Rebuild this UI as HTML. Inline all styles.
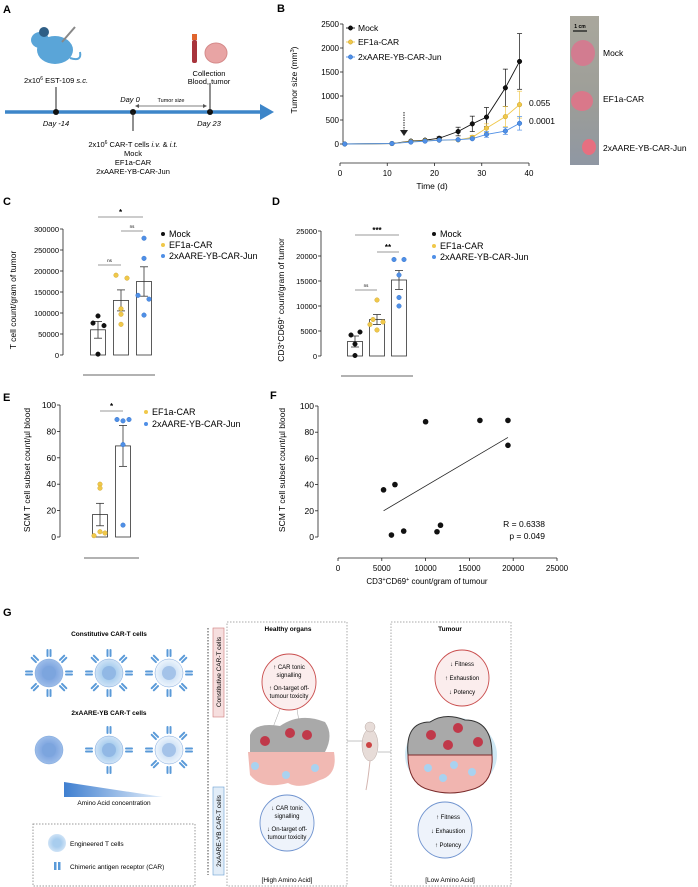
<!DOCTYPE html>
<html><head><meta charset="utf-8"><style>
html,body{margin:0;padding:0;background:#fff}
svg{display:block;font-family:"Liberation Sans",Arial,sans-serif}
</style></head><body>
<svg id="fig" width="698" height="887" viewBox="0 0 698 887" xmlns="http://www.w3.org/2000/svg">
<defs>
<linearGradient id="tri" x1="0" x2="1" y1="0" y2="0"><stop offset="0" stop-color="#3f7fd0"/><stop offset="1" stop-color="#e6f0fb"/></linearGradient>
<radialGradient id="cellA"><stop offset="0.45" stop-color="#7fa6e0"/><stop offset="1" stop-color="#9dbde9"/></radialGradient>
<radialGradient id="cellB"><stop offset="0.45" stop-color="#a8cdee"/><stop offset="1" stop-color="#cfe3f6"/></radialGradient>
<radialGradient id="cellC"><stop offset="0.45" stop-color="#cfe2f6"/><stop offset="1" stop-color="#eef5fc"/></radialGradient>
<linearGradient id="photo" x1="0" x2="0" y1="0" y2="1"><stop offset="0" stop-color="#a9a79c"/><stop offset="0.6" stop-color="#9c9d98"/><stop offset="1" stop-color="#8f97a3"/></linearGradient>
</defs>
<!-- Panel A -->
<g>
<text x="3" y="13" font-size="11" font-weight="bold">A</text>
<g fill="#5aa5d8">
<ellipse cx="55" cy="50" rx="18" ry="14"/><ellipse cx="40" cy="40" rx="9" ry="8"/><circle cx="44" cy="32" r="5" fill="#2f5f86"/>
<path d="M70 58 Q82 62 80 52" stroke="#5aa5d8" stroke-width="2" fill="none"/>
<line x1="62" y1="42" x2="75" y2="27" stroke="#888" stroke-width="2"/>
</g>
<text x="56" y="83" font-size="7.5" text-anchor="middle">2x10<tspan font-size="5" dy="-3">6</tspan><tspan dy="3"> EST-109 </tspan><tspan font-style="italic">s.c.</tspan></text>
<line x1="56" y1="87" x2="56" y2="112" stroke="#222" stroke-width="1"/>
<line x1="5" y1="112" x2="262" y2="112" stroke="#3d86c9" stroke-width="3.5"/>
<polygon points="260,104 274,112 260,120" fill="#3d86c9"/>
<circle cx="56" cy="112" r="3" fill="#111"/><circle cx="133" cy="112" r="3" fill="#111"/><circle cx="210" cy="112" r="3" fill="#111"/>
<line x1="133" y1="112" x2="133" y2="131" stroke="#222"/>
<line x1="210" y1="83" x2="210" y2="112" stroke="#222"/>
<text x="56" y="126" font-size="7.5" font-style="italic" text-anchor="middle">Day -14</text>
<text x="130" y="102" font-size="7.5" font-style="italic" text-anchor="middle">Day 0</text>
<text x="209" y="126" font-size="7.5" font-style="italic" text-anchor="middle">Day 23</text>
<line x1="137" y1="106" x2="205" y2="106" stroke="#555" stroke-width="0.8"/>
<polygon points="135,106 139,104 139,108" fill="#555"/><polygon points="207,106 203,104 203,108" fill="#555"/>
<text x="171" y="102" font-size="5.5" text-anchor="middle">Tumor size</text>
<rect x="192" y="34" width="5" height="6" fill="#e0642d"/><rect x="192" y="40" width="5" height="23" rx="2" fill="#a8343c"/>
<ellipse cx="216" cy="53" rx="11" ry="10" fill="#e8a4a4" stroke="#d58a8a"/>
<text x="209" y="76" font-size="7.5" text-anchor="middle">Collection</text>
<text x="209" y="84" font-size="7.5" text-anchor="middle">Blood, tumor</text>
<text x="133" y="147" font-size="7.5" text-anchor="middle">2x10<tspan font-size="5" dy="-3">6</tspan><tspan dy="3"> CAR-T cells </tspan><tspan font-style="italic">i.v.</tspan> &amp; <tspan font-style="italic">i.t.</tspan></text>
<text x="133" y="156" font-size="7.5" text-anchor="middle">Mock</text>
<text x="133" y="165" font-size="7.5" text-anchor="middle">EF1a-CAR</text>
<text x="133" y="174" font-size="7.5" text-anchor="middle">2xAARE-YB-CAR-Jun</text>
</g>
<text x="277" y="12" font-size="11" font-weight="bold">B</text>
<text x="3" y="205" font-size="11" font-weight="bold">C</text>
<text x="272" y="205" font-size="11" font-weight="bold">D</text>
<text x="3" y="401" font-size="11" font-weight="bold">E</text>
<text x="270" y="399" font-size="11" font-weight="bold">F</text>
<text x="3" y="616" font-size="11" font-weight="bold">G</text>
<!-- photo -->
<g>
<rect x="570" y="16" width="29" height="149" fill="url(#photo)"/>
<line x1="573" y1="31" x2="587" y2="31" stroke="#111" stroke-width="1.2"/>
<text x="580" y="28" font-size="5" font-weight="bold" text-anchor="middle">1 cm</text>
<ellipse cx="583" cy="53" rx="12" ry="13" fill="#d27c90"/>
<ellipse cx="582" cy="101" rx="11" ry="10" fill="#d9788a"/>
<ellipse cx="589" cy="147" rx="7" ry="8" fill="#e66f80"/>
<text x="603" y="56" font-size="8.5">Mock</text>
<text x="603" y="102" font-size="8.5">EF1a-CAR</text>
<text x="603" y="151" font-size="8.5">2xAARE-YB-CAR-Jun</text>
</g>
<!-- Panel G -->
<g id="gpanel" font-size="6.5">
<text x="109" y="636" text-anchor="middle" font-weight="bold">Constitutive CAR-T cells</text>
<text x="109" y="715" text-anchor="middle" font-weight="bold">2xAARE-YB CAR-T cells</text>
<polygon points="64,782 64,797 163,797" fill="url(#tri)"/>
<text x="114" y="805" text-anchor="middle">Amino Acid concentration</text>
<rect x="33" y="824" width="162" height="62" fill="none" stroke="#999" stroke-dasharray="1.5,1.5"/>
<circle cx="57" cy="843" r="9" fill="url(#cellB)"/>
<text x="70" y="846">Engineered T cells</text>
<rect x="54" y="862" width="2.5" height="8" fill="#5a9ad8"/><rect x="58" y="862" width="2.5" height="8" fill="#5a9ad8"/>
<text x="70" y="869">Chimeric antigen receptor (CAR)</text>
<line x1="208" y1="628" x2="208" y2="875" stroke="#444" stroke-dasharray="1.5,1.5"/>
<rect x="213" y="628" width="11" height="89" fill="#f6dede" stroke="#d07a7a" stroke-width="0.6"/>
<text transform="translate(221,672) rotate(-90)" text-anchor="middle" font-size="6.5">Constitutive CAR-T cells</text>
<rect x="213" y="787" width="11" height="88" fill="#e2edf8" stroke="#6a9fd3" stroke-width="0.6"/>
<text transform="translate(221,831) rotate(-90)" text-anchor="middle" font-size="6.5">2xAARE-YB CAR-T cells</text>
<rect x="227" y="622" width="120" height="264" fill="none" stroke="#aaa" stroke-dasharray="1.5,1.5"/>
<text x="288" y="631" text-anchor="middle" font-weight="bold">Healthy organs</text>
<line x1="280" y1="709" x2="272" y2="730" stroke="#888" stroke-width="0.4"/><line x1="297" y1="709" x2="300" y2="728" stroke="#888" stroke-width="0.4"/>
<ellipse cx="289" cy="682" rx="27" ry="28" fill="#fbeded" stroke="#c94d4d" stroke-width="0.9"/>
<text x="289" y="669" text-anchor="middle" font-size="6">↑ CAR tonic</text>
<text x="289" y="677" text-anchor="middle" font-size="6">signalling</text>
<text x="289" y="690" text-anchor="middle" font-size="6">↑ On-target off-</text>
<text x="289" y="698" text-anchor="middle" font-size="6">tumour toxicity</text>
<path d="M250 735 Q255 722 280 726 Q300 712 325 722 Q334 735 325 752 L250 752 Z" fill="#a9a9a9"/>
<path d="M248 752 L334 752 Q338 775 320 780 Q300 790 288 783 Q262 790 250 775 Z" fill="#f1b9b3"/>
<circle cx="265" cy="741" r="5" fill="#c0394a"/><circle cx="290" cy="733" r="5" fill="#c0394a"/><circle cx="307" cy="735" r="5" fill="#c0394a"/>
<circle cx="255" cy="766" r="4" fill="#a9d2f0"/><circle cx="286" cy="775" r="4" fill="#a9d2f0"/><circle cx="315" cy="768" r="4" fill="#a9d2f0"/>
<ellipse cx="287" cy="823" rx="27" ry="28" fill="#eef3fb" stroke="#6f93cf" stroke-width="0.9"/>
<text x="287" y="810" text-anchor="middle" font-size="6">↓ CAR tonic</text>
<text x="287" y="818" text-anchor="middle" font-size="6">signalling</text>
<text x="287" y="831" text-anchor="middle" font-size="6">↓ On-target off-</text>
<text x="287" y="839" text-anchor="middle" font-size="6">tumour toxicity</text>
<text x="287" y="882" text-anchor="middle">[High Amino Acid]</text>
<line x1="347" y1="741" x2="362" y2="741" stroke="#888" stroke-width="0.5"/><line x1="378" y1="752" x2="391" y2="752" stroke="#888" stroke-width="0.5"/>
<g><ellipse cx="370" cy="745" rx="8" ry="16" fill="#e7dcd8" stroke="#b9a9a4" stroke-width="0.5"/><circle cx="370" cy="727" r="5" fill="#e7dcd8" stroke="#b9a9a4" stroke-width="0.5"/><path d="M370 761 Q368 780 366 790" stroke="#d3b5b0" fill="none"/><circle cx="369" cy="745" r="3" fill="#c44"/></g>
<rect x="391" y="622" width="120" height="264" fill="none" stroke="#aaa" stroke-dasharray="1.5,1.5"/>
<text x="450" y="631" text-anchor="middle" font-weight="bold">Tumour</text>
<ellipse cx="451" cy="755" rx="46" ry="38" fill="#cfe8f4"/>
<path d="M408 755 Q405 722 430 722 Q445 712 465 720 Q492 720 492 755 Z" fill="#a9a9a9" stroke="#333" stroke-width="1"/>
<path d="M408 755 L492 755 Q494 785 470 790 Q450 796 430 790 Q408 785 408 755 Z" fill="#f1b5b0" stroke="#7a2b2b" stroke-width="1"/>
<circle cx="431" cy="735" r="5" fill="#c0394a"/><circle cx="458" cy="728" r="5" fill="#c0394a"/><circle cx="448" cy="745" r="5" fill="#c0394a"/><circle cx="478" cy="742" r="5" fill="#c0394a"/>
<circle cx="428" cy="768" r="4" fill="#a9d2f0"/><circle cx="454" cy="765" r="4" fill="#a9d2f0"/><circle cx="472" cy="772" r="4" fill="#a9d2f0"/><circle cx="443" cy="778" r="4" fill="#a9d2f0"/>
<ellipse cx="462" cy="678" rx="27" ry="28" fill="#fbeded" stroke="#c94d4d" stroke-width="0.9"/>
<text x="462" y="666" text-anchor="middle" font-size="6">↓ Fitness</text>
<text x="462" y="680" text-anchor="middle" font-size="6">↑ Exhaustion</text>
<text x="462" y="694" text-anchor="middle" font-size="6">↓ Potency</text>
<ellipse cx="445" cy="830" rx="27" ry="28" fill="#eef3fb" stroke="#6f93cf" stroke-width="0.9"/>
<text x="448" y="819" text-anchor="middle" font-size="6">↑ Fitness</text>
<text x="448" y="833" text-anchor="middle" font-size="6">↓ Exhaustion</text>
<text x="448" y="847" text-anchor="middle" font-size="6">↑ Potency</text>
<text x="450" y="882" text-anchor="middle">[Low Amino Acid]</text>
</g>
</svg>
<script>
// ---------- Panel B data ----------
const bDays = [1, 11, 15, 18, 21, 25, 28, 31, 35, 38];
const bMock = [0, 10, 60, 80, 120, 260, 420, 560, 1170, 1720];
const bMockErr = [0, 10, 20, 20, 30, 90, 160, 200, 390, 580];
const bEf1a = [0, 10, 50, 70, 80, 85, 140, 330, 570, 820];
const bEf1aErr = [0, 5, 15, 15, 15, 20, 40, 90, 210, 280];
const bJun = [0, 10, 40, 60, 80, 90, 110, 200, 270, 430];
const bJunErr = [0, 5, 10, 10, 10, 15, 20, 60, 70, 140];
const bYTicks = [0, 500, 1000, 1500, 2000, 2500];
const bXTicks = [0, 10, 20, 30, 40];
const bPvals = ["0.055", "0.0001"];
// ---------- Panel C data ----------
const cGroups = ["Mock", "EF1a-CAR", "2xAARE-YB-CAR-Jun"];
const cMeans = [60000, 130000, 175000];
const cSem = [20000, 25000, 35000];
const cPoints = [[76000, 93000, 70000, 2000], [190000, 183000, 110000, 97000, 73000], [278000, 230000, 142000, 133000, 95000]];
const cYTicks = [0, 50000, 100000, 150000, 200000, 250000, 300000];
// ---------- Panel D data ----------
const dMeans = [2900, 7300, 15200];
const dSem = [1100, 1000, 1900];
const dPoints = [[4200, 4800, 2400, 100], [11200, 7300, 6300, 6800, 5200], [19300, 19300, 16200, 11700, 10000]];
const dYTicks = [0, 5000, 10000, 15000, 20000, 25000];
// ---------- Panel E data ----------
const eGroups = ["EF1a-CAR", "2xAARE-YB-CAR-Jun"];
const eMeans = [17, 69];
const eSem = [8.5, 15.5];
const ePoints = [[40, 37, 1, 4, 3], [89, 88, 89, 70, 9]];
const eYTicks = [0, 20, 40, 60, 80, 100];
// ---------- Panel F data ----------
const fX = [5200, 6500, 10000, 16200, 19400, 19400, 6100, 7500, 11300, 11700];
const fY = [36, 40, 88, 89, 89, 70, 1.5, 4.5, 4, 9];
const fFitX = [5200, 19400];
const fFitY = [20, 76];
const fXTicks = [0, 5000, 10000, 15000, 20000, 25000];
const fYTicks = [0, 20, 40, 60, 80, 100];
const fStats = ["R = 0.6338", "p = 0.049"];

// layout-only jitter offsets (pixels) for dot placement
const cJitter = [[-5, 0, 6, 0], [-5, 6, 0, 0, 0], [0, 0, -6, 5, 0]];
const dJitter = [[-4, 5, 0, 0], [0, -4, -7, 6, 0], [-5, 5, 0, 0, 0]];
const eJitter = [[0, 0, -6, 0, 5], [-6, 0, 6, 0, 0]];

const NS = "http://www.w3.org/2000/svg";
const svg = document.getElementById("fig");
const COLS = ["#111111", "#f0c84a", "#4f8fe6"];
const STROKES = ["#000", "#c9a02a", "#2f6fc6"];
function mk(tag, attrs, parent) {
  const e = document.createElementNS(NS, tag);
  for (const k in attrs) e.setAttribute(k, attrs[k]);
  (parent || svg).appendChild(e);
  return e;
}
function tx(x, y, s, attrs, parent) {
  const e = mk("text", Object.assign({x: x, y: y}, attrs || {}), parent);
  e.textContent = s;
  return e;
}
function yAxis(g, x, y0, y1, ticks, sc, fs) {
  const ax = mk("line", {x1: x, x2: x, y1: y0, y2: y1, stroke: "#222", "stroke-width": 0.8}, g);
  
  
  ticks.forEach(t => {
    mk("line", {x1: x - 3, x2: x, y1: sc(t), y2: sc(t), stroke: "#222", "stroke-width": 0.8}, g);
    const l = tx(x - 4, sc(t) + 3, String(t), {"font-size": fs || 8, "text-anchor": "end"}, g);
    
    
  });
}
function ylabel(g, x, y, s) {
  const t = mk("text", {transform: "translate(" + x + "," + y + ") rotate(-90)", "font-size": 8.5, "text-anchor": "middle"}, g);
  t.innerHTML = s;
  
  
}
function bracket(g, x1, x2, y, label, big) {
  mk("line", {x1: x1, x2: x2, y1: y, y2: y, stroke: "#777", "stroke-width": 0.7}, g);
  const t = tx((x1 + x2) / 2, y - (big ? 2 : 3), label, {"font-size": big ? 8 : 4.5, "text-anchor": "middle", "font-weight": big ? "bold" : "normal"}, g);
  
  
}
function legend(g, x, ys, names, cols) {
  names.forEach((n, i) => {
    const it = mk("g", {}, g);
    
    
    mk("circle", {cx: x, cy: ys[i] - 3, r: 2, fill: cols[i]}, it);
    tx(x + 6, ys[i], n, {"font-size": 9}, it);
  });
}
function barPanel(g, centers, means, sem, pts, jit, sc, cols, strokes, w) {
  centers.forEach((c, i) => {
    const b = mk("rect", {x: c - w / 2, y: sc(means[i]), width: w, height: sc(0) - sc(means[i]), fill: "#fff", stroke: "#333", "stroke-width": 0.8}, g);
    
    
    mk("line", {x1: c, x2: c, y1: sc(means[i] - sem[i]), y2: sc(means[i] + sem[i]), stroke: "#333", "stroke-width": 0.8}, g);
    mk("line", {x1: c - 4, x2: c + 4, y1: sc(means[i] - sem[i]), y2: sc(means[i] - sem[i]), stroke: "#333", "stroke-width": 0.8}, g);
    mk("line", {x1: c - 4, x2: c + 4, y1: sc(means[i] + sem[i]), y2: sc(means[i] + sem[i]), stroke: "#333", "stroke-width": 0.8}, g);
    pts[i].forEach((v, j) => {
      const off = (jit[i] && jit[i][j] !== undefined) ? jit[i][j] : 0;
      const p = mk("circle", {cx: c + off, cy: sc(v), r: 2.3, fill: cols[i], stroke: strokes[i], "stroke-width": 0.4}, g);
      
      
    });
  });
}

// ---------- Panel B ----------
(function () {
  const g = mk("g", {});
  
  
  const bx = d => 340 + d * (189 / 40);
  const by = v => 144 - v * (120 / 2500);
  yAxis(g, 343, 24, 144, bYTicks, by, 8);
  const xa = mk("line", {x1: 340, x2: 529, y1: 163, y2: 163, stroke: "#222", "stroke-width": 0.8}, g);
  
  
  bXTicks.forEach(t => {
    mk("line", {x1: bx(t), x2: bx(t), y1: 163, y2: 166, stroke: "#222", "stroke-width": 0.8}, g);
    const l = tx(bx(t), 176, String(t), {"font-size": 8, "text-anchor": "middle"}, g);
    
    
  });
  const xt = tx(432, 189, "Time (d)", {"font-size": 8.5, "text-anchor": "middle"}, g);
  
  
  ylabel(g, 297, 80, 'Tumor size (mm<tspan font-size="5.5" dy="-3">3</tspan><tspan dy="3">)</tspan>');
  mk("line", {x1: 404, x2: 404, y1: 112, y2: 131, stroke: "#222", "stroke-width": 1, "stroke-dasharray": "1.5,1"}, g);
  mk("polygon", {points: "400,130 408,130 404,136", fill: "#222"}, g);
  const series = [[bMock, bMockErr], [bEf1a, bEf1aErr], [bJun, bJunErr]];
  series.forEach((s, k) => {
    const sg = mk("g", {}, g);
    
    
    const vals = s[0], err = s[1];
    mk("polyline", {points: bDays.map((d, i) => bx(d) + "," + by(vals[i])).join(" "), fill: "none", stroke: COLS[k], "stroke-width": 0.9}, sg);
    bDays.forEach((d, i) => {
      if (err[i] > 20) {
        mk("line", {x1: bx(d), x2: bx(d), y1: by(vals[i] - err[i]), y2: by(vals[i] + err[i]), stroke: COLS[k], "stroke-width": 0.7}, sg);
        mk("line", {x1: bx(d) - 2.5, x2: bx(d) + 2.5, y1: by(vals[i] + err[i]), y2: by(vals[i] + err[i]), stroke: COLS[k], "stroke-width": 0.7}, sg);
        mk("line", {x1: bx(d) - 2.5, x2: bx(d) + 2.5, y1: by(vals[i] - err[i]), y2: by(vals[i] - err[i]), stroke: COLS[k], "stroke-width": 0.7}, sg);
      }
      const p = mk("circle", {cx: bx(d), cy: by(vals[i]), r: 2.3, fill: COLS[k], stroke: STROKES[k], "stroke-width": 0.5}, sg);
      
      
    });
  });
  const p1 = tx(529, 106, bPvals[0], {"font-size": 8.5}, g);
  
  
  const p2 = tx(529, 124, bPvals[1], {"font-size": 8.5}, g);
  
  
  cGroups.forEach((n, i) => {
    const it = mk("g", {}, g);
    
    
    const y = [31, 45, 60][i];
    mk("line", {x1: 346, x2: 355, y1: y - 3, y2: y - 3, stroke: COLS[i], "stroke-width": 0.9}, it);
    mk("circle", {cx: 350.5, cy: y - 3, r: 2.2, fill: COLS[i], stroke: STROKES[i], "stroke-width": 0.5}, it);
    tx(358, y, n, {"font-size": 8.5}, it);
  });
})();

// ---------- Panel C ----------
(function () {
  const g = mk("g", {});
  
  
  const sc = v => 355 - v * (126 / 300000);
  yAxis(g, 63, 229, 355, cYTicks, sc, 7.5);
  ylabel(g, 16, 300, "T cell count/gram of tumor");
  barPanel(g, [98, 121, 144], cMeans, cSem, cPoints, cJitter, sc, COLS, STROKES, 15);
  bracket(g, 98, 143, 217, "*", true);
  bracket(g, 121, 143, 231, "ns", false);
  bracket(g, 98, 121, 265, "ns", false);
  mk("line", {x1: 83, x2: 155, y1: 375, y2: 375, stroke: "#666", "stroke-width": 0.9}, g);
  legend(g, 163, [237, 248, 259], cGroups, COLS);
})();

// ---------- Panel D ----------
(function () {
  const g = mk("g", {});
  
  
  const sc = v => 356 - v * (125 / 25000);
  yAxis(g, 321, 231, 356, dYTicks, sc, 7.5);
  ylabel(g, 284, 300, 'CD3<tspan font-size="5.5" dy="-3">+</tspan><tspan dy="3">CD69</tspan><tspan font-size="5.5" dy="-3">+</tspan><tspan dy="3"> count/gram of tumor</tspan>');
  barPanel(g, [355, 377, 399], dMeans, dSem, dPoints, dJitter, sc, COLS, STROKES, 15);
  bracket(g, 355, 399, 235, "***", true);
  bracket(g, 377, 399, 252, "**", true);
  bracket(g, 355, 377, 290, "ns", false);
  mk("line", {x1: 341, x2: 413, y1: 376, y2: 376, stroke: "#666", "stroke-width": 0.9}, g);
  legend(g, 434, [237, 249, 260], cGroups, COLS);
})();

// ---------- Panel E ----------
(function () {
  const g = mk("g", {});
  
  
  const sc = v => 537 - v * 1.32;
  yAxis(g, 60, 405, 537, eYTicks, sc, 8.5);
  ylabel(g, 30, 470, "SCM T cell subset count/µl blood");
  barPanel(g, [100, 123], eMeans, eSem, ePoints, eJitter, sc, [COLS[1], COLS[2]], [STROKES[1], STROKES[2]], 15);
  bracket(g, 100, 123, 411, "*", true);
  mk("line", {x1: 84, x2: 139, y1: 558, y2: 558, stroke: "#666", "stroke-width": 0.9}, g);
  legend(g, 146, [415, 427], eGroups, [COLS[1], COLS[2]]);
})();

// ---------- Panel F ----------
(function () {
  const g = mk("g", {});
  
  
  const fx = v => 338 + v * (219 / 25000);
  const fy = v => 537 - v * 1.31;
  yAxis(g, 318, 406, 537, fYTicks, fy, 8.5);
  ylabel(g, 285, 470, "SCM T cell subset count/µl blood");
  const xa = mk("line", {x1: 338, x2: 557, y1: 558, y2: 558, stroke: "#222", "stroke-width": 0.8}, g);
  
  
  fXTicks.forEach(t => {
    mk("line", {x1: fx(t), x2: fx(t), y1: 558, y2: 561, stroke: "#222", "stroke-width": 0.8}, g);
    const l = tx(fx(t), 571, String(t), {"font-size": 8, "text-anchor": "middle"}, g);
    
    
  });
  const xt = mk("text", {x: 427, y: 584, "font-size": 8, "text-anchor": "middle"}, g);
  xt.innerHTML = 'CD3<tspan font-size="5.5" dy="-3">+</tspan><tspan dy="3">CD69</tspan><tspan font-size="5.5" dy="-3">+</tspan><tspan dy="3"> count/gram of tumour</tspan>';
  
  
  const fl = mk("line", {x1: fx(fFitX[0]), x2: fx(fFitX[1]), y1: fy(fFitY[0]), y2: fy(fFitY[1]), stroke: "#222", "stroke-width": 0.8}, g);
  
  
  fX.forEach((x, i) => {
    const p = mk("circle", {cx: fx(x), cy: fy(fY[i]), r: 2.8, fill: "#111"}, g);
    
    
  });
  const s1 = tx(545, 527, fStats[0], {"font-size": 8.5, "text-anchor": "end"}, g);
  
  
  const s2 = tx(545, 539, fStats[1], {"font-size": 8.5, "text-anchor": "end"}, g);
  
  
})();

// ---------- Panel G cells ----------
(function () {
  const g = document.getElementById("gpanel");
  const fills = ["url(#cellA)", "url(#cellB)", "url(#cellC)"];
  const xs = [49, 109, 169];
  function car(x, y, ang) {
    const c = mk("g", {transform: "translate(" + x + "," + y + ") rotate(" + ang + ")"}, g);
    mk("rect", {x: -2.5, y: -4, width: 2, height: 8, rx: 1, fill: "#5a9ad8"}, c);
    mk("rect", {x: 0.5, y: -4, width: 2, height: 8, rx: 1, fill: "#5a9ad8"}, c);
  }
  [[673, [8, 8, 8]], [750, [0, 4, 8]]].forEach(row => {
    xs.forEach((x, i) => {
      const c = mk("circle", {cx: x, cy: row[0], r: 14, fill: fills[i], stroke: "#7ba5dc", "stroke-width": 0.5}, g);
      
      
      mk("circle", {cx: x, cy: row[0], r: 7, fill: "#7aa3db", opacity: 0.5}, g);
      const n = row[1][i];
      for (let k = 0; k < n; k++) {
        const a = (k / n) * 2 * Math.PI - Math.PI / 2;
        car(x + Math.cos(a) * 20, row[0] + Math.sin(a) * 20, k * 360 / n);
      }
    });
  });
})();
</script>
</body></html>
